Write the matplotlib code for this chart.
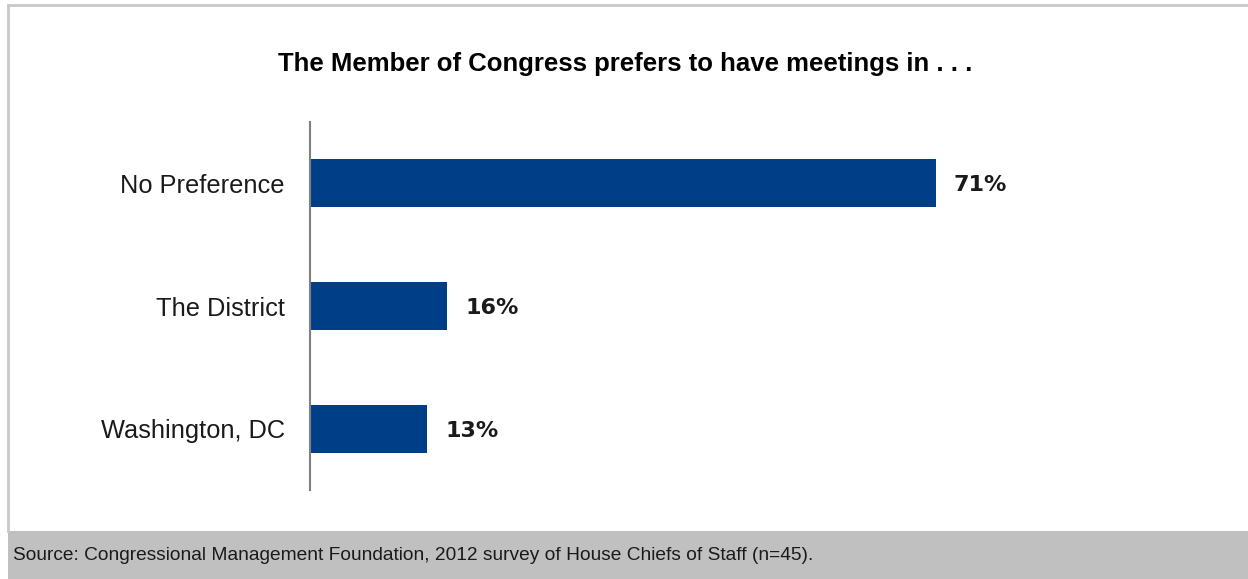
import matplotlib
matplotlib.use("Agg")
import matplotlib.pyplot as plt
from matplotlib.patches import Rectangle

categories = ["No Preference", "The District", "Washington, DC"]
values = [71.1, 15.6, 13.3]  # 32, 7 and 6 of n=45
value_labels = ["71%", "16%", "13%"]
title = "The Member of Congress prefers to have meetings in . . ."
source = "Source: Congressional Management Foundation, 2012 survey of House Chiefs of Staff (n=45)."

W, H = 1248, 579
bar_color = "#003f87"

fig = plt.figure(figsize=(W / 100, H / 100), dpi=100)
fig.patch.set_facecolor("white")

# frame + footer band (figure pixel coords)
fig.patches.append(Rectangle((8 / W, 0), 1 - 8 / W, 48 / H, transform=fig.transFigure,
                             facecolor="#c0c0c0", edgecolor="none", zorder=0))
fig.add_artist(plt.Line2D([8 / W, 8 / W], [48 / H, 1 - 5 / H], transform=fig.transFigure,
                          color="#c8c8c8", lw=2))
fig.add_artist(plt.Line2D([8 / W, 1], [1 - 5 / H, 1 - 5 / H], transform=fig.transFigure,
                          color="#c8c8c8", lw=2))

ax = fig.add_axes([310 / W, 1 - 490 / H, 880 / W, 368 / H])
ypos = list(range(len(categories)))
ax.barh(ypos, values, height=0.39, color=bar_color)
ax.set_xlim(0, 100)
ax.set_ylim(len(categories) - 0.5, -0.5)
ax.set_yticks(ypos)
ax.set_yticklabels(categories, fontsize=18.3, color="#1a1a1a", family="Liberation Sans")
ax.tick_params(axis="y", length=0, pad=18)
ax.set_xticks([])
for s in ["top", "right", "bottom"]:
    ax.spines[s].set_visible(False)
ax.spines["left"].set_color("#808080")
ax.spines["left"].set_linewidth(1.5)

for y, v, lab in zip(ypos, values, value_labels):
    ax.annotate(lab, (v, y), xytext=(18, -2), textcoords="offset pixels",
                va="center", ha="left", fontsize=16, fontweight="bold", color="#1a1a1a",
                family="DejaVu Sans")

fig.text(625 / W, 1 - 64 / H, title, ha="center", va="center", fontsize=18.5,
         fontweight="bold", color="black", family="Liberation Sans")
fig.text(13 / W, 23 / H, source, ha="left", va="center", fontsize=13.8,
         color="#1a1a1a", family="Liberation Sans")

fig.savefig("out.png", dpi=100, facecolor="white")
